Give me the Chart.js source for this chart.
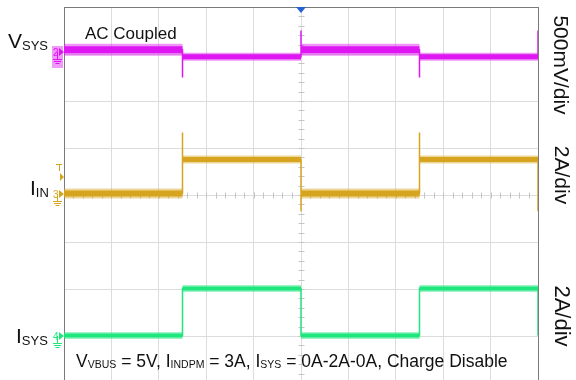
<!DOCTYPE html>
<html>
<head>
<meta charset="utf-8">
<script src="https://cdn.jsdelivr.net/npm/chart.js"></script>
<style>
  html, body { margin: 0; padding: 0; background: #fff; overflow: hidden; }
  #wrap { width: 576px; height: 392px; }
</style>
</head>
<body>
<div id="wrap"><canvas id="scope" width="576" height="392"></canvas></div>
<script>
// horizontal axis in screen divisions (10 across), load step edges
const edgeDivs = [2.5, 5, 7.5, 10];

// VSYS, AC coupled, mV around the channel reference
const vsysLevels = [20, -55, 20, -55];
const vsysSpikes = [-275, 225, -275, 225];
// IIN, A
const iinLevels = [0, 1.45, 0, 1.45];
const iinSpikes = [2.6, -0.75, 2.6, -0.75];
// ISYS, A
const isysLevels = [0, 2, 0, 2];

const FONT = '"Liberation Sans", Arial, sans-serif';

// ref = reference marker position in div from screen centre
const channels = [
  { num: '2', ref: 3.05, perDiv: 500, levels: vsysLevels, spikes: vsysSpikes,
    color: '#de17f2', halo: 'rgba(222,23,242,0.45)', bands: [[12, 7], [8, 5]] },
  { num: '3', ref: 0.03, perDiv: 2, levels: iinLevels, spikes: iinSpikes,
    color: '#d6a520', halo: 'rgba(214,165,32,0.45)', bands: [[10, 6], [8, 5]] },
  { num: '4', ref: -2.99, perDiv: 2, levels: isysLevels, spikes: null,
    color: '#21e67e', halo: 'rgba(33,230,126,0.45)', bands: [[7, 4], [7, 4]] }
];

function toDiv(ch, v) { return ch.ref + v / ch.perDiv; }

const datasets = [];
channels.forEach(ch => {
  const pts = [];
  let start = 0;
  ch.levels.forEach((lv, i) => {
    const t = edgeDivs[i];
    const y = toDiv(ch, lv);
    const [hw, cw] = ch.bands[i % 2];
    // noisy plateau: soft halo + solid core
    datasets.push({ data: [{x: start, y}, {x: t, y}], borderColor: ch.halo, borderWidth: hw, borderCapStyle: 'butt' });
    datasets.push({ data: [{x: start, y}, {x: t, y}], borderColor: ch.color, borderWidth: cw, borderCapStyle: 'butt' });
    pts.push({x: start, y}, {x: t, y});
    if (ch.spikes) pts.push({x: t, y: toDiv(ch, ch.spikes[i])});
    start = t;
  });
  pts.push({x: 10, y: toDiv(ch, ch.levels[0])});
  datasets.push({ data: pts, borderColor: ch.color, borderWidth: 1.5 });
});

const scopePlugin = {
  id: 'scope',
  beforeDatasetsDraw(chart) {
    const {ctx, chartArea: a, scales: {x, y}} = chart;
    ctx.save();
    // centre crosshair minor ticks
    ctx.strokeStyle = '#c4c4c4';
    ctx.lineWidth = 1;
    const cx = Math.round(x.getPixelForValue(5)) + 0.5;
    const cy = Math.round(y.getPixelForValue(0)) + 0.5;
    ctx.beginPath();
    for (let v = -4; v <= 4.001; v += 0.2) {
      const py = Math.round(y.getPixelForValue(v)) + 0.5;
      ctx.moveTo(cx - 3, py); ctx.lineTo(cx + 3, py);
    }
    for (let v = 0; v <= 10.001; v += 0.2) {
      const px = Math.round(x.getPixelForValue(v)) + 0.5;
      ctx.moveTo(px, cy - 3); ctx.lineTo(px, cy + 3);
    }
    ctx.stroke();
    // frame
    ctx.strokeStyle = '#7a7a7a';
    ctx.strokeRect(Math.round(a.left) + 0.5, Math.round(a.top) + 0.5,
                   Math.round(a.right - a.left), Math.round(a.bottom - a.top));
    ctx.restore();
  },
  afterDraw(chart) {
    const {ctx, scales: {x, y}} = chart;
    ctx.save();
    ctx.textBaseline = 'alphabetic';

    // trigger position marker
    const tx = x.getPixelForValue(5);
    ctx.fillStyle = '#2563d0';
    ctx.beginPath();
    ctx.moveTo(tx - 5, 7); ctx.lineTo(tx + 5, 7); ctx.lineTo(tx, 13); ctx.closePath();
    ctx.fill();

    // channel reference markers
    channels.forEach((ch, i) => {
      const py = Math.round(y.getPixelForValue(ch.ref));
      const ax = x.left;
      if (i === 0) {
        ctx.fillStyle = 'rgba(226,70,244,0.55)';
        ctx.fillRect(ax - 12, py - 6, 11, 22);
      }
      ctx.fillStyle = ch.color;
      ctx.strokeStyle = ch.color;
      ctx.lineWidth = 1;
      ctx.font = '10px ' + FONT;
      ctx.fillText(ch.num, ax - 11, py + 4);
      ctx.beginPath();
      ctx.moveTo(ax - 5, py - 4); ctx.lineTo(ax, py); ctx.lineTo(ax - 5, py + 4); ctx.closePath();
      ctx.fill();
      ctx.beginPath();
      ctx.moveTo(ax - 6.5, py); ctx.lineTo(ax - 6.5, py + 7);
      ctx.moveTo(ax - 11, py + 7.5); ctx.lineTo(ax - 2, py + 7.5);
      ctx.moveTo(ax - 10, py + 9.5); ctx.lineTo(ax - 3, py + 9.5);
      ctx.moveTo(ax - 8.5, py + 11.5); ctx.lineTo(ax - 4.5, py + 11.5);
      ctx.stroke();
      if (i === 1) {
        // trigger level
        const ty = Math.round(y.getPixelForValue(toDiv(ch, 0.7)));
        ctx.beginPath();
        ctx.moveTo(ax - 4, ty - 4); ctx.lineTo(ax, ty); ctx.lineTo(ax - 4, ty + 4); ctx.closePath();
        ctx.fill();
        ctx.beginPath();
        ctx.moveTo(ax - 8, ty - 12.5); ctx.lineTo(ax - 2, ty - 12.5);
        ctx.moveTo(ax - 4.5, ty - 12.5); ctx.lineTo(ax - 4.5, ty - 6);
        ctx.stroke();
      }
    });

    ctx.fillStyle = '#111';
    function subText(parts, px, py, big, small, drop) {
      parts.forEach((p, k) => {
        const isSub = k % 2 === 1;
        ctx.font = (isSub ? small : big) + 'px ' + FONT;
        ctx.fillText(p, px, py + (isSub ? drop : 0));
        px += ctx.measureText(p).width;
      });
    }
    subText(['V', 'SYS'], 8, 48, 21, 13, 2);
    subText(['I', 'IN'], 30, 195, 21, 13, 2);
    subText(['I', 'SYS'], 16, 342.5, 21, 13, 2.5);

    ctx.font = '17px ' + FONT;
    ctx.fillText('AC Coupled', 85, 39);

    subText(['V', 'VBUS', ' = 5V, I', 'INDPM', ' = 3A, I', 'SYS', ' = 0A-2A-0A, Charge Disable'],
            76, 367, 17.5, 10.5, 1);

    // vertical scale labels
    function vText(t, px, py, size) {
      ctx.save();
      ctx.translate(px, py);
      ctx.rotate(Math.PI / 2);
      ctx.font = size + 'px ' + FONT;
      ctx.textAlign = 'center';
      ctx.fillText(t, 0, 0);
      ctx.restore();
    }
    vText('500mV/div', 554, 65, 21);
    vText('2A/div', 555, 175, 21);
    vText('2A/div', 555, 316, 22);
    ctx.restore();
  }
};

new Chart(document.getElementById('scope'), {
  type: 'scatter',
  data: { datasets: datasets.map(d => Object.assign({ showLine: true, pointRadius: 0, fill: false }, d)) },
  options: {
    responsive: false,
    animation: false,
    layout: { padding: { left: 64, right: 38, top: 7, bottom: 9 } },
    plugins: { legend: { display: false }, tooltip: { enabled: false } },
    scales: {
      x: { type: 'linear', min: 0, max: 10,
           ticks: { display: false, stepSize: 1 },
           grid: { color: '#dcdcdc', drawTicks: false },
           border: { display: false } },
      y: { type: 'linear', min: -4, max: 4,
           ticks: { display: false, stepSize: 1 },
           grid: { color: '#dcdcdc', drawTicks: false },
           border: { display: false } }
    }
  },
  plugins: [scopePlugin]
});
</script>
</body>
</html>
